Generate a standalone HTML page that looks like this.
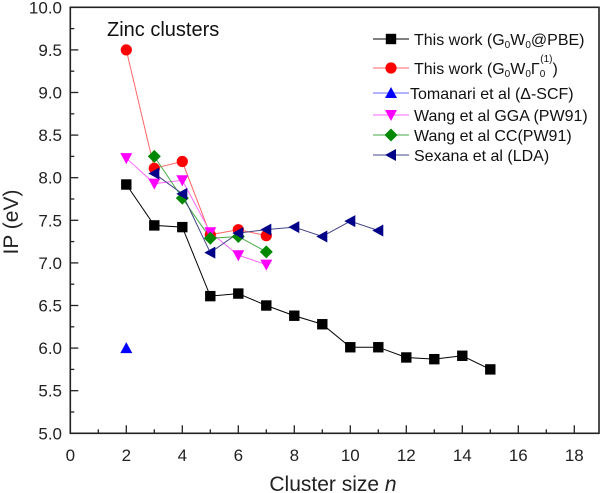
<!DOCTYPE html>
<html><head><style>body{margin:0;background:#fff}svg{display:block;font-family:"Liberation Sans",sans-serif}</style></head>
<body>
<svg width="605" height="493" viewBox="0 0 605 493" xmlns="http://www.w3.org/2000/svg">
<rect width="605" height="493" fill="#fff"/>
<text x="333" y="491" text-anchor="middle" font-size="21" fill="#222">Cluster size <tspan font-style="italic">n</tspan></text>
<text x="0" y="0" transform="translate(18,222) rotate(-90)" text-anchor="middle" font-size="21" fill="#222">IP (eV)</text>
<text x="107" y="36" font-size="20" fill="#111">Zinc clusters</text>
<text x="414" y="45" font-size="16" fill="#111">This work (G<tspan baseline-shift="-30%" font-size="10">0</tspan>W<tspan baseline-shift="-30%" font-size="10">0</tspan>@PBE)</text>
<text x="414" y="74" font-size="16" fill="#111">This work (G<tspan baseline-shift="-30%" font-size="10">0</tspan>W<tspan baseline-shift="-30%" font-size="10">0</tspan>Γ<tspan baseline-shift="-30%" font-size="10">0</tspan><tspan dx="-5" dy="-12" font-size="10">(1)</tspan><tspan dy="12">)</tspan></text>
<text x="410" y="99" font-size="16" fill="#111">Tomanari et al (Δ-SCF)</text>
<text x="414" y="121" font-size="16" fill="#111">Wang et al GGA (PW91)</text>
<text x="414" y="141" font-size="16" fill="#111">Wang et al CC(PW91)</text>
<text x="414" y="161" font-size="16" fill="#111">Sexana et al (LDA)</text>
<g id="plot"></g>
<script>
const L=70.3,R=599,T=7.3,B=433.3;
const X=n=>L+28*n, Y=v=>B-85.2*(v-5);
const g=document.getElementById('plot');const NS='http://www.w3.org/2000/svg';
function el(t,a,txt){const e=document.createElementNS(NS,t);for(const k in a)e.setAttribute(k,a[k]);if(txt!=null)e.textContent=txt;g.appendChild(e);return e;}
el('rect',{x:L,y:T,width:R-L,height:B-T,fill:'none',stroke:'#222','stroke-width':1.6});
for(let i=0;i<=19;i++){const x=X(i);if(x>R)break;el('line',{x1:x,x2:x,y1:B,y2:B-(i%2?4:8),stroke:'#222','stroke-width':1.3});if(i%2==0)el('text',{x:x,y:461,'text-anchor':'middle','font-size':17,fill:'#222'},String(i));}
for(let k=0;k<=20;k++){const v=5+k*0.25;const y=Y(v);el('line',{x1:L,x2:L+(k%2?4:8),y1:y,y2:y,stroke:'#222','stroke-width':1.3});if(k%2==0)el('text',{x:62,y:y+6,'text-anchor':'end','font-size':17,fill:'#222'},v.toFixed(1));}
function marker(type,x,y,c){const s=5.2;
 if(type=='sq')el('rect',{x:x-s,y:y-s,width:2*s,height:2*s,fill:c});
 else if(type=='ci')el('circle',{cx:x,cy:y,r:5.6,fill:c});
 else if(type=='up')el('polygon',{points:`${x},${y-6} ${x+6},${y+5} ${x-6},${y+5}`,fill:c});
 else if(type=='dn')el('polygon',{points:`${x},${y+6} ${x+6},${y-5} ${x-6},${y-5}`,fill:c});
 else if(type=='di')el('polygon',{points:`${x},${y-6.5} ${x+6.5},${y} ${x},${y+6.5} ${x-6.5},${y}`,fill:c});
 else if(type=='lf')el('polygon',{points:`${x-6},${y} ${x+5},${y-6} ${x+5},${y+6}`,fill:c});}
const S=[
['sq','#000','#000',[[2,7.92],[3,7.44],[4,7.42],[5,6.61],[6,6.64],[7,6.50],[8,6.38],[9,6.28],[10,6.01],[11,6.01],[12,5.89],[13,5.87],[14,5.91],[15,5.75]]],
['ci','#f00','#f66',[[2,9.50],[3,8.11],[4,8.19],[5,7.33],[6,7.39],[7,7.32]]],
['up','#00f','#66f',[[2,6.0]]],
['dn','#f0f','#f6f',[[2,8.23],[3,7.93],[4,7.97],[5,7.36],[6,7.09],[7,6.98]]],
['di','#080','#4a4',[[3,8.25],[4,7.76],[5,7.29],[6,7.31],[7,7.13]]],
['lf','#008','#448',[[3,8.05],[4,7.81],[5,7.12],[6,7.35],[7,7.39],[8,7.42],[9,7.31],[10,7.49],[11,7.38]]]];
S.forEach(([m,c,lc,d])=>{if(d.length>1)el('polyline',{points:d.map(p=>X(p[0])+','+Y(p[1])).join(' '),fill:'none',stroke:lc,'stroke-width':1});});
S.forEach(([m,c,lc,d])=>d.forEach(p=>marker(m,X(p[0]),Y(p[1]),c)));
const ly=[39,68,93,115,135,155];
S.forEach(([m,c,lc],i)=>{const y=ly[i];el('line',{x1:373,x2:409,y1:y,y2:y,stroke:lc,'stroke-width':1});marker(m,391,y,c);});
</script>
</svg>
</body></html>
